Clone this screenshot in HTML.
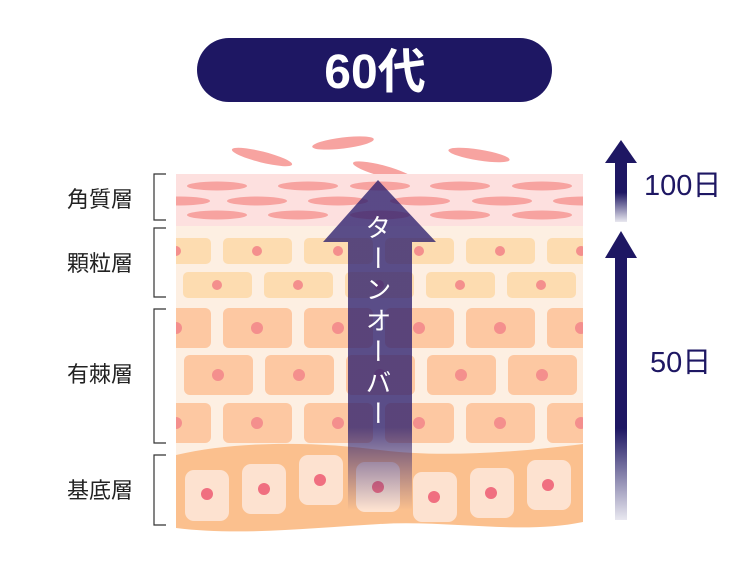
<!DOCTYPE html>
<html><head><meta charset="utf-8">
<style>
html,body{margin:0;padding:0;background:#fff;}
#w{position:relative;width:750px;height:576px;overflow:hidden;font-family:"Liberation Sans","Noto Sans CJK JP",sans-serif;}
.lbl{position:absolute;left:52px;width:96px;text-align:center;font-size:22px;color:#222;line-height:24px;font-family:"Noto Sans CJK JP",sans-serif;}
.vt{position:absolute;left:361px;top:214px;writing-mode:vertical-rl;font-family:"Noto Sans CJK JP",sans-serif;font-size:26px;color:#fff;letter-spacing:5px;line-height:34px;width:34px;}
</style></head><body><div id="w">
<svg width="750" height="576" viewBox="0 0 750 576" style="position:absolute;left:0;top:0">
<defs>
<clipPath id="c"><rect x="176" y="120" width="407" height="420"/></clipPath>
<linearGradient id="tg" gradientUnits="userSpaceOnUse" x1="0" y1="180" x2="0" y2="510">
<stop offset="0" stop-color="#2c1f6e" stop-opacity="0.78"/>
<stop offset="0.75" stop-color="#2c1f6e" stop-opacity="0.78"/>
<stop offset="1" stop-color="#2c1f6e" stop-opacity="0"/>
</linearGradient>
<linearGradient id="ra" x1="0" y1="0" x2="0" y2="1">
<stop offset="0" stop-color="#1e1763"/>
<stop offset="0.5" stop-color="#1e1763"/>
<stop offset="1" stop-color="#1e1763" stop-opacity="0.1"/>
</linearGradient>
<linearGradient id="ra2" x1="0" y1="0" x2="0" y2="1">
<stop offset="0" stop-color="#1e1763"/>
<stop offset="0.65" stop-color="#1e1763"/>
<stop offset="1" stop-color="#1e1763" stop-opacity="0.1"/>
</linearGradient>
</defs>
<rect x="197" y="38" width="355" height="64" rx="32" fill="#1e1763"/>
<text x="375" y="88" text-anchor="middle" font-size="48" font-weight="bold" fill="#fff" font-family="Liberation Sans, Noto Sans CJK JP, sans-serif">60代</text>
<g fill="#f7a3a0">
<ellipse cx="262" cy="157" rx="31" ry="5.5" transform="rotate(14 262 157)"/>
<ellipse cx="343" cy="143" rx="31" ry="5.5" transform="rotate(-7 343 143)"/>
<ellipse cx="383" cy="171" rx="31" ry="5.5" transform="rotate(15 383 171)"/>
<ellipse cx="479" cy="155" rx="31" ry="5.5" transform="rotate(9 479 155)"/>
</g>
<g clip-path="url(#c)">
<rect x="176" y="174" width="407" height="52" fill="#fde0df"/>
<rect x="176" y="226" width="407" height="240" fill="#fdefe2"/>
<g fill="#f7a3a0">
<ellipse cx="217" cy="186" rx="30" ry="4.5"/><ellipse cx="308" cy="186" rx="30" ry="4.5"/><ellipse cx="380" cy="186" rx="30" ry="4.5"/><ellipse cx="460" cy="186" rx="30" ry="4.5"/><ellipse cx="542" cy="186" rx="30" ry="4.5"/>
<ellipse cx="180" cy="201" rx="30" ry="4.5"/><ellipse cx="257" cy="201" rx="30" ry="4.5"/><ellipse cx="338" cy="201" rx="30" ry="4.5"/><ellipse cx="420" cy="201" rx="30" ry="4.5"/><ellipse cx="502" cy="201" rx="30" ry="4.5"/><ellipse cx="583" cy="201" rx="30" ry="4.5"/>
<ellipse cx="217" cy="215" rx="30" ry="4.5"/><ellipse cx="298" cy="215" rx="30" ry="4.5"/><ellipse cx="380" cy="215" rx="30" ry="4.5"/><ellipse cx="460" cy="215" rx="30" ry="4.5"/><ellipse cx="542" cy="215" rx="30" ry="4.5"/>
</g>
<g fill="#fddcb0">
<rect x="142" y="238" width="69" height="26" rx="5"/><rect x="223" y="238" width="69" height="26" rx="5"/><rect x="304" y="238" width="69" height="26" rx="5"/><rect x="385" y="238" width="69" height="26" rx="5"/><rect x="466" y="238" width="69" height="26" rx="5"/><rect x="547" y="238" width="69" height="26" rx="5"/>
<rect x="183" y="272" width="69" height="26" rx="5"/><rect x="264" y="272" width="69" height="26" rx="5"/><rect x="345" y="272" width="69" height="26" rx="5"/><rect x="426" y="272" width="69" height="26" rx="5"/><rect x="507" y="272" width="69" height="26" rx="5"/>
</g>
<g fill="#f48f8d">
<circle cx="176" cy="251" r="5"/><circle cx="257" cy="251" r="5"/><circle cx="338" cy="251" r="5"/><circle cx="419" cy="251" r="5"/><circle cx="500" cy="251" r="5"/><circle cx="581" cy="251" r="5"/>
<circle cx="217" cy="285" r="5"/><circle cx="298" cy="285" r="5"/><circle cx="379" cy="285" r="5"/><circle cx="460" cy="285" r="5"/><circle cx="541" cy="285" r="5"/>
</g>
<g fill="#fdc8a2">
<rect x="142" y="308" width="69" height="40" rx="6"/><rect x="223" y="308" width="69" height="40" rx="6"/><rect x="304" y="308" width="69" height="40" rx="6"/><rect x="385" y="308" width="69" height="40" rx="6"/><rect x="466" y="308" width="69" height="40" rx="6"/><rect x="547" y="308" width="69" height="40" rx="6"/>
<rect x="184" y="355" width="69" height="40" rx="6"/><rect x="265" y="355" width="69" height="40" rx="6"/><rect x="346" y="355" width="69" height="40" rx="6"/><rect x="427" y="355" width="69" height="40" rx="6"/><rect x="508" y="355" width="69" height="40" rx="6"/>
<rect x="142" y="403" width="69" height="40" rx="6"/><rect x="223" y="403" width="69" height="40" rx="6"/><rect x="304" y="403" width="69" height="40" rx="6"/><rect x="385" y="403" width="69" height="40" rx="6"/><rect x="466" y="403" width="69" height="40" rx="6"/><rect x="547" y="403" width="69" height="40" rx="6"/>
</g>
<g fill="#f48f8d">
<circle cx="176" cy="328" r="6"/><circle cx="257" cy="328" r="6"/><circle cx="338" cy="328" r="6"/><circle cx="419" cy="328" r="6"/><circle cx="500" cy="328" r="6"/><circle cx="581" cy="328" r="6"/>
<circle cx="218" cy="375" r="6"/><circle cx="299" cy="375" r="6"/><circle cx="380" cy="375" r="6"/><circle cx="461" cy="375" r="6"/><circle cx="542" cy="375" r="6"/>
<circle cx="176" cy="423" r="6"/><circle cx="257" cy="423" r="6"/><circle cx="338" cy="423" r="6"/><circle cx="419" cy="423" r="6"/><circle cx="500" cy="423" r="6"/><circle cx="581" cy="423" r="6"/>
</g>
<path d="M176 455 C240 440 320 442 380 450 S520 452 583 444 L583 522 C520 535 450 520 380 524 S240 536 176 528 Z" fill="#fbc08e"/>
<g fill="#fde2d0">
<rect x="185" y="470" width="44" height="51" rx="9"/><rect x="242" y="464" width="44" height="50" rx="9"/><rect x="299" y="455" width="44" height="50" rx="9"/><rect x="356" y="462" width="44" height="50" rx="9"/><rect x="413" y="472" width="44" height="50" rx="9"/><rect x="470" y="468" width="44" height="50" rx="9"/><rect x="527" y="460" width="44" height="50" rx="9"/>
</g>
<g fill="#f06f80">
<circle cx="207" cy="494" r="6"/><circle cx="264" cy="489" r="6"/><circle cx="320" cy="480" r="6"/><circle cx="378" cy="487" r="6"/><circle cx="434" cy="497" r="6"/><circle cx="491" cy="493" r="6"/><circle cx="548" cy="485" r="6"/>
</g>
</g>
<path d="M378 180 L436 242 L412 242 L412 510 L348 510 L348 242 L323 242 Z" fill="url(#tg)"/>
<g fill="none" stroke="#333" stroke-width="1.2">
<path d="M166 174 H154 V220 H166"/>
<path d="M166 228 H154 V297 H166"/>
<path d="M166 309 H154 V443 H166"/>
<path d="M166 455 H154 V525 H166"/>
</g>
<path d="M621 140 L637 163 L605 163 Z" fill="#1e1763"/>
<rect x="615" y="163" width="12" height="59" fill="url(#ra)"/>
<path d="M621 231 L637 258 L605 258 Z" fill="#1e1763"/>
<rect x="615" y="258" width="12" height="262" fill="url(#ra2)"/>
<text x="644" y="195" font-size="29" fill="#1e1763" font-family="Liberation Sans, Noto Sans CJK JP, sans-serif">100日</text>
<text x="650" y="372" font-size="29" fill="#1e1763" font-family="Liberation Sans, Noto Sans CJK JP, sans-serif">50日</text>
</svg>
<div class="lbl" style="top:186px">角質層</div>
<div class="lbl" style="top:250px">顆粒層</div>
<div class="lbl" style="top:361px">有棘層</div>
<div class="lbl" style="top:477px">基底層</div>
<div class="vt">ターンオーバー</div>
</div></body></html>
